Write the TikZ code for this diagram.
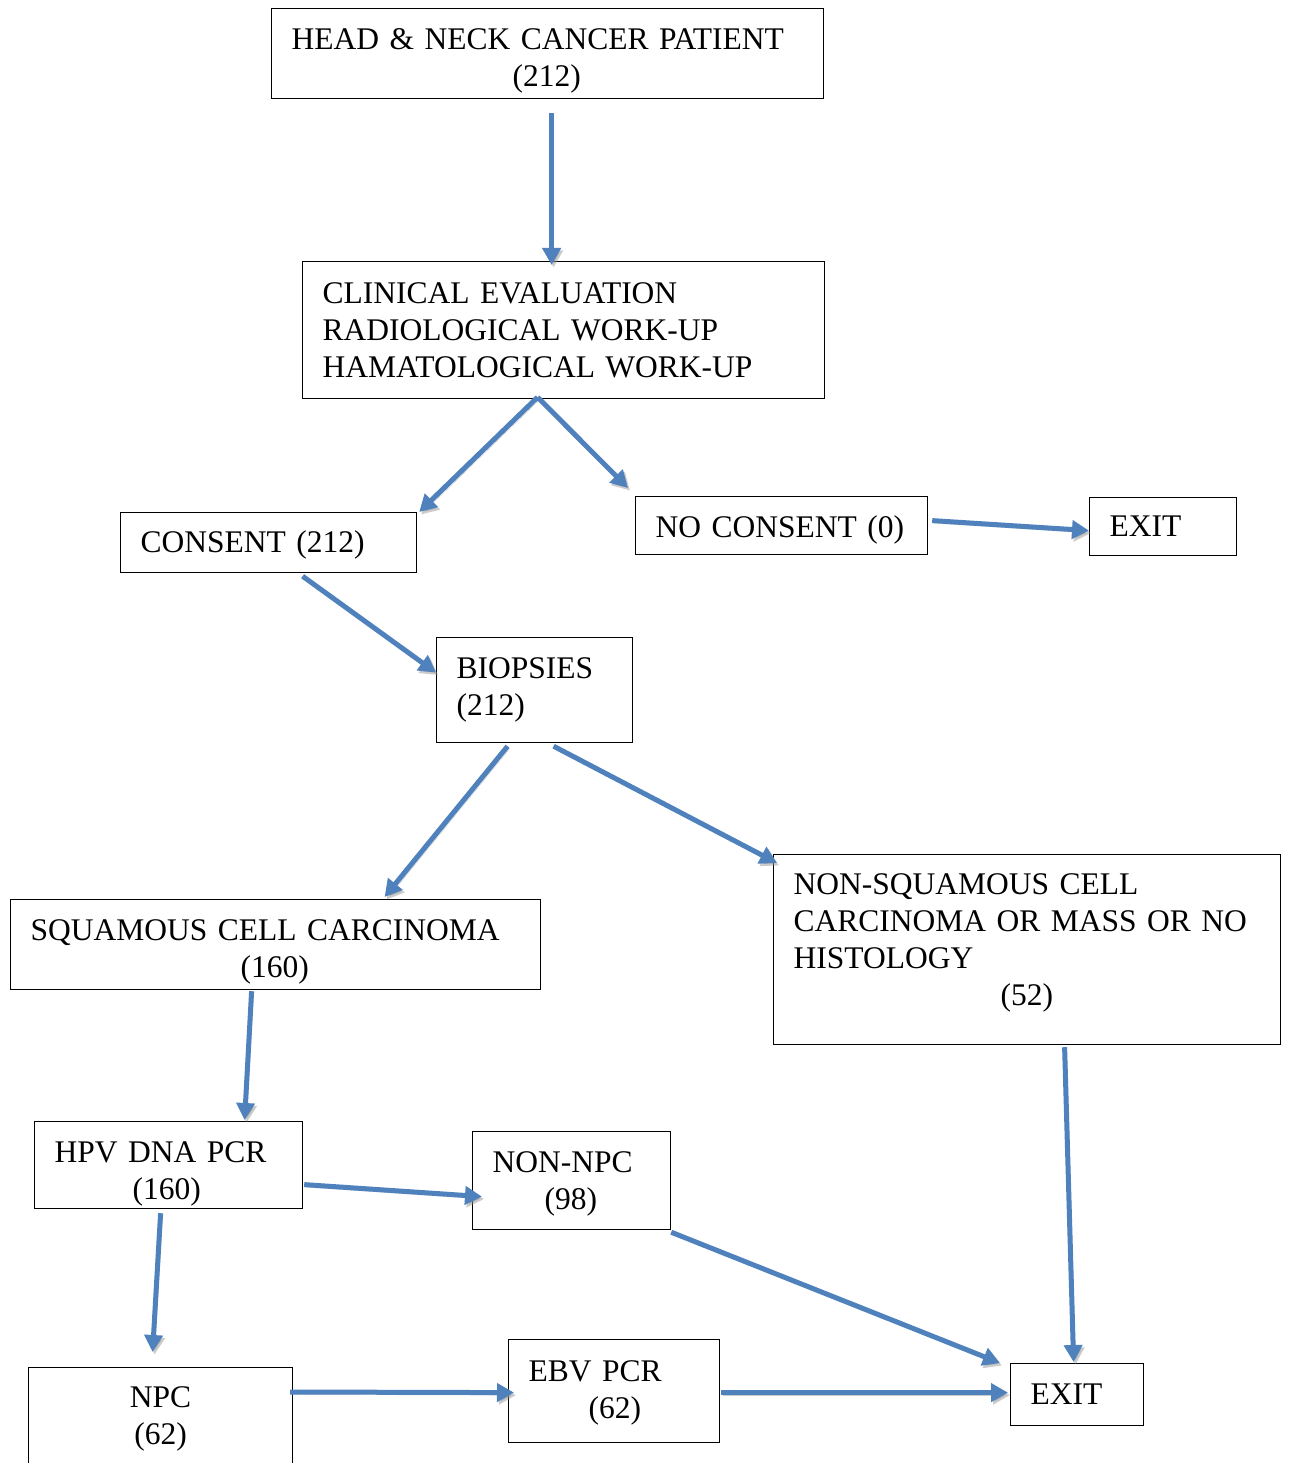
\documentclass[tikz,border=0pt]{standalone}
\usepackage{fontspec}
\setmainfont{Liberation Serif}
\usetikzlibrary{arrows.meta,calc}
\definecolor{arrblue}{RGB}{79,129,189}
\newcommand{\uph}[1]{\rule{0pt}{#1pt}}
\newcommand{\dnd}[1]{\rule[-#1pt]{0pt}{1pt}}
\begin{document}
\begin{tikzpicture}[x=1pt,y=1pt,
  box/.style={draw, line width=1.2pt, anchor=north west, inner xsep=20pt, inner ysep=0pt,
    align=left, font=\fontsize{31.5}{37}\selectfont},
  arr/.style={draw=arrblue, line width=5pt, -{Triangle[length=17pt,width=18pt]},
    preaction={draw=black!45, opacity=0.45, transform canvas={shift={(2pt,-2.5pt)}}}}]
\useasboundingbox (0,0) rectangle (1290,-1463);
\fill[white] (0,0) rectangle (1290,-1463);

\node[box, text width=512pt, minimum height=90pt] (head) at (271,-8)
  {\uph{36}HEAD \& NECK CANCER PATIENT\\\hspace*{221pt}(212)};
\node[box, text width=482pt, minimum height=137pt] (clin) at (302,-261)
  {CLINICAL EVALUATION\\RADIOLOGICAL WORK-UP\\HAMATOLOGICAL WORK-UP};
\node[box, text width=256pt, minimum height=60pt] (cons) at (120,-512) {\uph{26}\mbox{CONSENT (212)}};
\node[box, text width=252pt, minimum height=58pt] (nocons) at (635,-496) {\uph{30}\mbox{NO CONSENT (0)}};
\node[box, text width=107pt, minimum height=58pt] (exitA) at (1089,-497) {EXIT};
\node[box, text width=156pt, minimum height=105pt] (biop) at (436,-637) {BIOPSIES\\(212)};
\node[box, text width=490pt, minimum height=90pt] (scc) at (10,-899)
  {\uph{35}SQUAMOUS CELL CARCINOMA\\\hspace*{210pt}(160)};
\node[box, text width=467pt, minimum height=190pt] (nonscc) at (773,-854)
  {NON-SQUAMOUS CELL\\CARCINOMA OR MASS OR NO\\HISTOLOGY\\\hspace*{207pt}(52)\dnd{20}};
\node[box, text width=228pt, minimum height=87pt] (hpv) at (34,-1121)
  {\uph{39}HPV DNA PCR\\\hspace*{78pt}(160)};
\node[box, text width=158pt, minimum height=98pt] (nonnpc) at (472,-1131)
  {\uph{27}NON-NPC\\\hspace*{52pt}(98)};
\node[box, text width=224pt, minimum height=103pt, align=center] (npc) at (28,-1367) {NPC\\(62)};
\node[box, text width=171pt, minimum height=103pt] (ebv) at (508,-1339)
  {\uph{25}EBV PCR\\\hspace*{60pt}(62)};
\node[box, text width=93pt, minimum height=62pt] (exitB) at (1010,-1363) {EXIT};

\draw[arr] ([shift={(4,-14)}]head.south) -- ([shift={(-12,-4)}]clin.north);
\draw[arr] ([shift={(-26,2)}]clin.south) -- ([shift={(2,0)}]cons.north east);
\draw[arr] ([shift={(-26,2)}]clin.south) -- ([shift={(-7,8)}]nocons.north west);
\draw[arr] ([shift={(4,5)}]nocons.east) -- ([shift={(0,-4)}]exitA.west);
\draw[arr] ([shift={(34,-3)}]cons.south) -- ([shift={(0,17.5)}]biop.west);
\draw[arr] ([shift={(-27,-3)}]biop.south) -- ([shift={(109,2)}]scc.north);
\draw[arr] ([shift={(19,-3)}]biop.south) -- ([shift={(4,-9)}]nonscc.north west);
\draw[arr] ([shift={(-24,-1)}]scc.south) -- ([shift={(76,1)}]hpv.north);
\draw[arr] ([shift={(1,-19.5)}]hpv.east) -- ([shift={(10,-16)}]nonnpc.west);
\draw[arr] ([shift={(-8,-4)}]hpv.south) -- ([shift={(-8,15)}]npc.north);
\draw[arr] ([shift={(0,-2)}]nonnpc.south east) -- ([shift={(-10,0)}]exitB.north west);
\draw[arr] ([shift={(37.5,-2)}]nonscc.south) -- ([shift={(-3.5,1)}]exitB.north);
\draw[arr] ([shift={(-3,-25)}]npc.north east) -- ([shift={(6,-1.5)}]ebv.west);
\draw[arr] ([shift={(1,-1.5)}]ebv.east) -- ([shift={(-2,2)}]exitB.west);
\end{tikzpicture}
\end{document}
